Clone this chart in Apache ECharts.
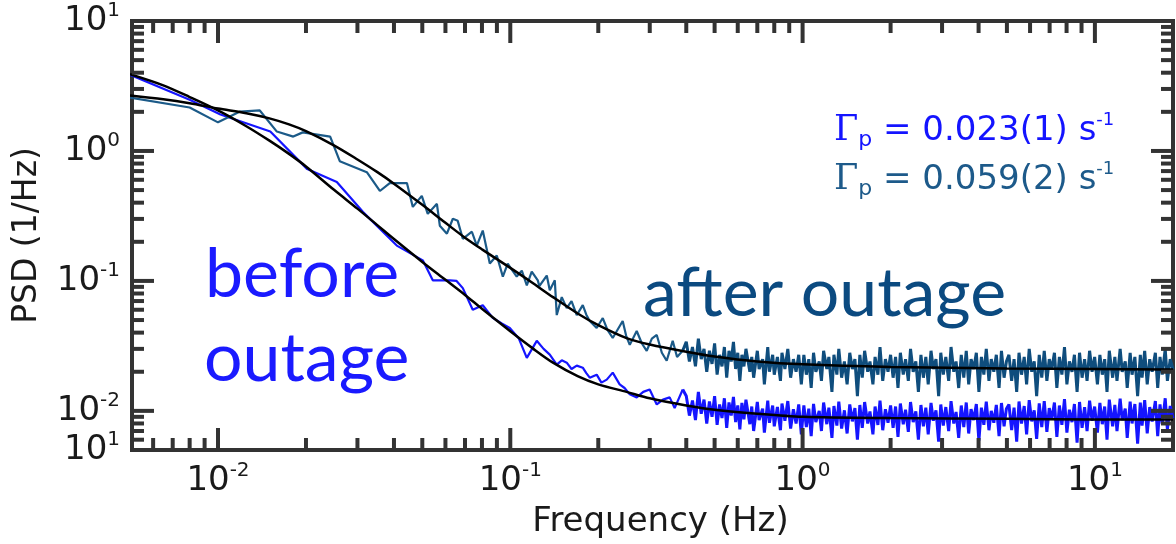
<!DOCTYPE html>
<html>
<head>
<meta charset="utf-8">
<script src="https://cdn.jsdelivr.net/npm/echarts@6/dist/echarts.min.js"></script>
<style>
html,body{margin:0;padding:0;background:#fff;}
#chart{width:1176px;height:544px;}
</style>
</head>
<body>
<div id="chart"></div>
<script>
// ---------------- data ----------------
// Axis ranges
const xRange = [0.00508, 18.5];
const yRange = [0.005, 10];

// Tick labels (value -> exponent shown as 10^exp)
const xTickValues = [0.01, 0.1, 1, 10];
const xTickExps = ['-2', '-1', '0', '1'];
const yTickValues = [0.005, 0.01, 0.1, 1, 10];
const yTickExps = ['1', '-2', '-1', '0', '1'];

// Tick marks
const xMajorTicks = [0.01, 0.1, 1, 10];
const xMinorTicks = [0.006, 0.007, 0.008, 0.009, 0.02, 0.03, 0.04, 0.05, 0.06, 0.07, 0.08, 0.09,
  0.2, 0.3, 0.4, 0.5, 0.6, 0.7, 0.8, 0.9, 2, 3, 4, 5, 6, 7, 8, 9];
const yMajorTicks = [0.01, 0.1, 1];
const yMinorTicks = [0.006, 0.007, 0.008, 0.009, 0.02, 0.03, 0.04, 0.05, 0.06, 0.07, 0.08, 0.09,
  0.2, 0.3, 0.4, 0.5, 0.6, 0.7, 0.8, 0.9, 2, 3, 4, 5, 6, 7, 8, 9];

// Low-frequency part of the "before outage" spectrum
const beforeLowFreq = [0.005, 0.008, 0.0102, 0.0151, 0.0202, 0.0255, 0.0313, 0.0409, 0.0502, 0.0543,
  0.0621, 0.0655, 0.0688, 0.0744, 0.0805, 0.0871, 0.0935, 0.0996, 0.107, 0.1139,
  0.1232, 0.130, 0.1365, 0.1442, 0.150, 0.156, 0.162, 0.1688, 0.177, 0.182,
  0.187, 0.1975, 0.205, 0.2138, 0.2241, 0.2367, 0.246, 0.2563, 0.2707, 0.285,
  0.2998, 0.317, 0.333, 0.351, 0.365, 0.389];
const beforeLowPsd = [3.85, 2.48, 1.91, 1.41, 0.725, 0.576, 0.340, 0.187, 0.144, 0.101,
  0.101, 0.100, 0.088, 0.060, 0.065, 0.052, 0.047, 0.0434, 0.036, 0.0256,
  0.0346, 0.030, 0.0271, 0.0227, 0.0245, 0.0235, 0.021, 0.0223, 0.0215, 0.0195,
  0.0180, 0.0190, 0.0165, 0.0174, 0.0197, 0.0160, 0.0150, 0.0134, 0.0127, 0.0140,
  0.0146, 0.0112, 0.0122, 0.0127, 0.0105, 0.0146];

// Low-frequency part of the "after outage" spectrum
const afterLowFreq = [0.005, 0.008, 0.010, 0.0119, 0.0139, 0.0159, 0.0181, 0.0195, 0.0242, 0.0261,
  0.0323, 0.0358, 0.0387, 0.0443, 0.0464, 0.0498, 0.0522, 0.0561, 0.0574, 0.0607,
  0.0636, 0.0661, 0.0688, 0.0739, 0.0768, 0.0805, 0.0851, 0.0899, 0.0943, 0.098,
  0.1005, 0.1052, 0.1095, 0.1139, 0.1184, 0.1242, 0.1257, 0.1333, 0.1365, 0.1420,
  0.1442, 0.150, 0.156, 0.162, 0.1688, 0.177, 0.182, 0.187, 0.1975, 0.2072,
  0.215, 0.2241, 0.2424, 0.249, 0.2563, 0.2707, 0.282, 0.2929, 0.305, 0.317,
  0.330, 0.3428, 0.3594, 0.372, 0.3888];
const afterLowPsd = [2.57, 2.16, 1.66, 2.01, 2.05, 1.41, 1.29, 1.39, 1.29, 0.834,
  0.687, 0.492, 0.566, 0.566, 0.371, 0.451, 0.328, 0.392, 0.266, 0.231,
  0.301, 0.290, 0.211, 0.239, 0.187, 0.244, 0.136, 0.157, 0.108, 0.136,
  0.125, 0.108, 0.120, 0.0925, 0.118, 0.101, 0.091, 0.110, 0.0848, 0.101,
  0.0546, 0.075, 0.0618, 0.070, 0.0546, 0.0651, 0.055, 0.0491, 0.0434, 0.0518,
  0.042, 0.0364, 0.0491, 0.038, 0.0322, 0.0412, 0.033, 0.0290, 0.036, 0.0384,
  0.028, 0.0243, 0.0346, 0.026, 0.0290];

// High-frequency (noise floor) part, shared frequency bins
const highFreq = [
  0.40, 0.41, 0.42, 0.43, 0.44, 0.45, 0.46, 0.47, 0.48, 0.49, 0.50, 0.51, 0.52, 0.53, 0.54, 0.55, 0.56, 0.57, 0.58, 0.59,
  0.60, 0.61, 0.62, 0.63, 0.64, 0.66, 0.67, 0.68, 0.70, 0.71, 0.73, 0.74, 0.76, 0.77, 0.79, 0.80, 0.82, 0.84, 0.85, 0.87,
  0.89, 0.91, 0.93, 0.95, 0.97, 0.99,
  1.01, 1.03, 1.05, 1.07, 1.09, 1.11, 1.14, 1.16, 1.18, 1.21, 1.23, 1.26, 1.28, 1.31, 1.33, 1.36, 1.39, 1.42, 1.45, 1.48,
  1.51, 1.54, 1.57, 1.60, 1.63, 1.67, 1.70, 1.74, 1.77, 1.81, 1.84, 1.88, 1.92, 1.96, 2.00,
  2.04, 2.08, 2.12, 2.16, 2.21, 2.25, 2.30, 2.34, 2.39, 2.44, 2.49, 2.54, 2.59, 2.64, 2.69, 2.75, 2.80, 2.86, 2.92, 2.97,
  3.03, 3.09, 3.16, 3.22, 3.29, 3.35, 3.42, 3.49, 3.56, 3.63, 3.70, 3.77, 3.85, 3.93, 4.01, 4.09, 4.17, 4.25, 4.34, 4.42,
  4.51, 4.60, 4.70, 4.79, 4.89, 4.98,
  5.08, 5.19, 5.29, 5.40, 5.50, 5.61, 5.73, 5.84, 5.96, 6.08, 6.20, 6.32, 6.45, 6.58, 6.71, 6.85, 6.98, 7.12, 7.27, 7.41,
  7.56, 7.71, 7.87, 8.02, 8.18, 8.35, 8.51, 8.69, 8.86, 9.04, 9.22, 9.40, 9.59, 9.78, 9.98,
  10.2, 10.4, 10.6, 10.8, 11.0, 11.2, 11.5, 11.7, 11.9, 12.2, 12.4, 12.7, 12.9, 13.2, 13.4, 13.7, 14.0, 14.3, 14.5, 14.8,
  15.1, 15.4, 15.7, 16.1, 16.4, 16.7, 17.0, 17.4, 17.7, 18.1, 18.5];

const beforeHighPsd = [
  0.013, 0.0092, 0.012, 0.0085, 0.014, 0.0095, 0.0122, 0.0080, 0.0118, 0.0090, 0.0130, 0.0078, 0.0112, 0.0088, 0.0125, 0.0074, 0.0116, 0.0092, 0.0128, 0.0082,
  0.0110, 0.0072, 0.0115, 0.0086, 0.0122, 0.0079, 0.0108, 0.0070, 0.0117, 0.0085, 0.0104, 0.0068, 0.0120, 0.0081, 0.0110, 0.0076, 0.0107, 0.0071, 0.0114, 0.0084,
  0.0119, 0.0073, 0.0103, 0.0080, 0.0112, 0.0066,
  0.0110, 0.0075, 0.0104, 0.0064, 0.0113, 0.0082, 0.0100, 0.0070, 0.0116, 0.0079, 0.0106, 0.0062, 0.0109, 0.0077, 0.0118, 0.0073, 0.0101, 0.0067, 0.0112, 0.0083,
  0.0105, 0.0060, 0.0111, 0.0074, 0.0117, 0.0080, 0.0099, 0.0066, 0.0108, 0.0078, 0.0120, 0.0071, 0.0103, 0.0081, 0.0110,
  0.0074, 0.0108, 0.0063, 0.0114, 0.0079, 0.0102, 0.0069, 0.0117, 0.0082, 0.0099, 0.0060, 0.0111, 0.0076, 0.0106, 0.0066, 0.0115, 0.0084, 0.0101, 0.0058, 0.0112,
  0.0077, 0.0107, 0.0070, 0.0119, 0.0080, 0.0098, 0.0062, 0.0110, 0.0075, 0.0116, 0.0067, 0.0103, 0.0085, 0.0113, 0.0059, 0.0106, 0.0078, 0.0118, 0.0071, 0.0100,
  0.0081, 0.0111, 0.0064, 0.0115, 0.0076, 0.0104,
  0.0112, 0.0071, 0.0106, 0.0058, 0.0118, 0.0080, 0.0109, 0.0066, 0.0121, 0.0083, 0.0101, 0.0061, 0.0114, 0.0075, 0.0119, 0.0069, 0.0105, 0.0086, 0.0116, 0.0063,
  0.0110, 0.0078, 0.0123, 0.0068, 0.0102, 0.0082, 0.0113, 0.0057, 0.0117, 0.0074, 0.0107, 0.0070, 0.0120, 0.0084, 0.0108,
  0.0068, 0.0115, 0.0079, 0.0108, 0.0060, 0.0122, 0.0076, 0.0111, 0.0070, 0.0124, 0.0085, 0.0104, 0.0062, 0.0118, 0.0080, 0.0113, 0.0056, 0.0116, 0.0077, 0.0121,
  0.0067, 0.0107, 0.0083, 0.0119, 0.0064, 0.0112, 0.0079, 0.0125, 0.0072, 0.0109, 0.0088];

const afterHighPsd = [
  0.034, 0.024, 0.031, 0.022, 0.036, 0.025, 0.030, 0.020, 0.029, 0.023, 0.033, 0.019, 0.027, 0.022, 0.031, 0.018, 0.029, 0.024, 0.034, 0.021,
  0.028, 0.017, 0.027, 0.022, 0.030, 0.020, 0.026, 0.018, 0.029, 0.021, 0.025, 0.016, 0.031, 0.020, 0.027, 0.019, 0.026, 0.017, 0.028, 0.021,
  0.030, 0.018, 0.025, 0.020, 0.027, 0.016,
  0.027, 0.019, 0.025, 0.015, 0.028, 0.020, 0.024, 0.017, 0.029, 0.021, 0.026, 0.014, 0.027, 0.019, 0.030, 0.018, 0.024, 0.016, 0.028, 0.021,
  0.025, 0.013, 0.027, 0.018, 0.029, 0.020, 0.024, 0.016, 0.026, 0.019, 0.031, 0.017, 0.025, 0.020, 0.027,
  0.018, 0.026, 0.015, 0.028, 0.019, 0.025, 0.017, 0.030, 0.020, 0.024, 0.014, 0.027, 0.018, 0.026, 0.016, 0.029, 0.021, 0.025, 0.013, 0.028,
  0.019, 0.026, 0.017, 0.031, 0.020, 0.024, 0.015, 0.027, 0.018, 0.029, 0.016, 0.025, 0.021, 0.028, 0.014, 0.026, 0.019, 0.030, 0.017, 0.025,
  0.020, 0.027, 0.015, 0.029, 0.018, 0.024,
  0.027, 0.017, 0.025, 0.014, 0.028, 0.019, 0.026, 0.016, 0.030, 0.020, 0.024, 0.013, 0.027, 0.018, 0.029, 0.017, 0.025, 0.021, 0.028, 0.015,
  0.026, 0.019, 0.031, 0.016, 0.024, 0.020, 0.027, 0.014, 0.028, 0.018, 0.025, 0.017, 0.029, 0.020, 0.026,
  0.016, 0.027, 0.019, 0.025, 0.014, 0.029, 0.018, 0.026, 0.017, 0.030, 0.020, 0.024, 0.015, 0.028, 0.019, 0.026, 0.013, 0.027, 0.018, 0.029,
  0.016, 0.025, 0.020, 0.028, 0.015, 0.026, 0.019, 0.030, 0.017, 0.025, 0.021];

// Fit curves (black)
const fitFreq = [0.005, 0.0065, 0.008, 0.01, 0.0125, 0.015, 0.0175, 0.02, 0.025, 0.03,
  0.035, 0.04, 0.05, 0.06, 0.07, 0.08, 0.1, 0.12, 0.14, 0.17,
  0.2, 0.25, 0.3, 0.4, 0.5, 0.7, 1.0, 2, 5, 10, 18.5];
const fitBefore = [3.9, 3.2, 2.6, 2.05, 1.55, 1.2, 0.95, 0.76, 0.50, 0.36,
  0.27, 0.21, 0.14, 0.102, 0.078, 0.061, 0.041, 0.030, 0.0235, 0.0185,
  0.0160, 0.0140, 0.0125, 0.0110, 0.0102, 0.0095, 0.0090, 0.0088, 0.0087, 0.0086, 0.0086];
const fitAfter = [2.67, 2.5, 2.33, 2.12, 1.95, 1.78, 1.6, 1.42, 1.1, 0.86,
  0.69, 0.56, 0.385, 0.28, 0.215, 0.175, 0.126, 0.0955, 0.075, 0.0562,
  0.0457, 0.0363, 0.0324, 0.0285, 0.0262, 0.0240, 0.0228, 0.0218, 0.0212, 0.0210, 0.0208];

// Texts
const beforeLabel = ['before', 'outage'];
const afterLabel = 'after outage';
const gammaTexts = [
  { value: '0.023(1)', color: '#1414ff' },
  { value: '0.059(2)', color: '#1d5a8a' }
];

// ---------------- build ----------------
function pairs(xs, ys) {
  const n = Math.min(xs.length, ys.length);
  const out = [];
  for (let i = 0; i < n; i++) out.push([xs[i], ys[i]]);
  return out;
}
const beforeLowData = pairs(beforeLowFreq, beforeLowPsd);
const afterLowData = pairs(afterLowFreq, afterLowPsd);
// high part starts from the last low point so the trace is continuous
const beforeHighData = [beforeLowData[beforeLowData.length - 1]].concat(pairs(highFreq, beforeHighPsd));
const afterHighData = [afterLowData[afterLowData.length - 1]].concat(pairs(highFreq, afterHighPsd));

const FONT = 'DejaVu Sans';
const LABEL_COLOR = '#1a1a1a';
const labelRich = {
  b: { fontFamily: FONT, fontSize: 34, color: LABEL_COLOR, lineHeight: 40 },
  s: { fontFamily: FONT, fontSize: 20, color: LABEL_COLOR, lineHeight: 26, verticalAlign: 'top' }
};
function findExp(values, exps, v) {
  const lv = Math.log10(v);
  for (let i = 0; i < values.length; i++) {
    if (Math.abs(Math.log10(values[i]) - lv) < 0.01) return exps[i];
  }
  return null;
}

const TICK_COLOR = '#333';
function tickSeries(dir, values, len) {
  return {
    type: 'custom',
    silent: true,
    clip: false,
    z: 6,
    animation: false,
    data: values.map(v => dir === 'x' ? [v, 1] : [1, v]),
    renderItem: function (params, api) {
      const cs = params.coordSys;
      const p = api.coord([api.value(0), api.value(1)]);
      const st = { stroke: TICK_COLOR, lineWidth: 4 };
      if (dir === 'x') {
        const b = cs.y + cs.height, t = cs.y;
        return { type: 'group', children: [
          { type: 'line', shape: { x1: p[0], y1: b, x2: p[0], y2: b - len }, style: st },
          { type: 'line', shape: { x1: p[0], y1: t, x2: p[0], y2: t + len }, style: st }
        ] };
      }
      const l = cs.x, r = cs.x + cs.width;
      return { type: 'group', children: [
        { type: 'line', shape: { x1: l, y1: p[1], x2: l + len, y2: p[1] }, style: st },
        { type: 'line', shape: { x1: r, y1: p[1], x2: r - len, y2: p[1] }, style: st }
      ] };
    }
  };
}

const chart = echarts.init(document.getElementById('chart'), null, { renderer: 'canvas' });
const gammaRich = function (color) {
  return {
    g: { fontFamily: 'DejaVu Serif', fontSize: 35, fill: color, color: color, lineHeight: 40 },
    sub: { fontFamily: FONT, fontSize: 22, fill: color, color: color, lineHeight: 20, verticalAlign: 'bottom' },
    t: { fontFamily: FONT, fontSize: 34, fill: color, color: color, lineHeight: 40 },
    sup: { fontFamily: FONT, fontSize: 18, fill: color, color: color, lineHeight: 30, verticalAlign: 'top' }
  };
};

const BEFORE_COLOR = '#1515ff';
const AFTER_COLOR = '#1b5a88';
const option = {
  animation: false,
  backgroundColor: '#ffffff',
  grid: {
    left: 132, right: 2, top: 21, bottom: 92,
    show: true, borderWidth: 4, borderColor: TICK_COLOR, backgroundColor: 'transparent',
    containLabel: false
  },
  xAxis: {
    type: 'log', logBase: 10, min: xRange[0], max: xRange[1],
    name: 'Frequency (Hz)', nameLocation: 'middle', nameGap: 55,
    nameTextStyle: { fontFamily: FONT, fontSize: 34, color: LABEL_COLOR, padding: [0, 0, 0, 16] },
    axisLine: { show: false }, axisTick: { show: false }, splitLine: { show: false },
    axisLabel: {
      margin: 11, showMinLabel: true, showMaxLabel: true, hideOverlap: false,
      formatter: function (v) {
        const e = findExp(xTickValues, xTickExps, v);
        return e === null ? '' : '{b|10}{s|' + e + '}';
      },
      rich: labelRich
    }
  },
  yAxis: {
    type: 'log', logBase: 10, min: yRange[0], max: yRange[1],
    name: 'PSD (1/Hz)', nameLocation: 'middle', nameGap: 88,
    nameTextStyle: { fontFamily: FONT, fontSize: 33, color: LABEL_COLOR },
    axisLine: { show: false }, axisTick: { show: false }, splitLine: { show: false },
    axisLabel: {
      margin: 12, showMinLabel: true, showMaxLabel: true, hideOverlap: false,
      formatter: function (v) {
        const e = findExp(yTickValues, yTickExps, v);
        return e === null ? '' : '{b|10}{s|' + e + '}';
      },
      rich: labelRich
    }
  },
  series: [
    { type: 'line', name: 'before', data: beforeLowData, showSymbol: false, symbol: 'none',
      lineStyle: { color: BEFORE_COLOR, width: 2.2 }, z: 2 },
    { type: 'line', name: 'before (floor)', data: beforeHighData, showSymbol: false, symbol: 'none',
      lineStyle: { color: BEFORE_COLOR, width: 3 }, z: 2 },
    { type: 'line', name: 'after', data: afterLowData, showSymbol: false, symbol: 'none',
      lineStyle: { color: AFTER_COLOR, width: 2.2 }, z: 2 },
    { type: 'line', name: 'after (floor)', data: afterHighData, showSymbol: false, symbol: 'none',
      lineStyle: { color: '#0f4d7d', width: 3 }, z: 2 },
    { type: 'line', name: 'fit before', data: pairs(fitFreq, fitBefore), showSymbol: false, symbol: 'none',
      smooth: 0.3, lineStyle: { color: '#000', width: 2.5 }, z: 3 },
    { type: 'line', name: 'fit after', data: pairs(fitFreq, fitAfter), showSymbol: false, symbol: 'none',
      smooth: 0.3, lineStyle: { color: '#000', width: 2.5 }, z: 3 },
    tickSeries('x', xMajorTicks, 22),
    tickSeries('x', xMinorTicks, 12),
    tickSeries('y', yMajorTicks, 22),
    tickSeries('y', yMinorTicks, 12)
  ],
  graphic: [
    { type: 'text', x: 205, y: 275, z: 20,
      style: { text: beforeLabel[0], fontFamily: 'Lato', fontSize: 68, fill: '#1a1aff', align: 'left', verticalAlign: 'middle' } },
    { type: 'text', x: 204, y: 359, z: 20,
      style: { text: beforeLabel[1], fontFamily: 'Lato', fontSize: 68, fill: '#1a1aff', align: 'left', verticalAlign: 'middle' } },
    { type: 'text', x: 643, y: 294, z: 20,
      style: { text: afterLabel, fontFamily: 'Lato', fontSize: 68, fill: '#0b4a80', align: 'left', verticalAlign: 'middle' } },
    { type: 'text', x: 834, y: 131, z: 20,
      style: { text: '{g|Γ}{sub|p}{t| = ' + gammaTexts[0].value + ' s}{sup|-1}', rich: gammaRich(gammaTexts[0].color),
        fill: gammaTexts[0].color, align: 'left', verticalAlign: 'middle' } },
    { type: 'text', x: 834, y: 180, z: 20,
      style: { text: '{g|Γ}{sub|p}{t| = ' + gammaTexts[1].value + ' s}{sup|-1}', rich: gammaRich(gammaTexts[1].color),
        fill: gammaTexts[1].color, align: 'left', verticalAlign: 'middle' } }
  ]
};
chart.setOption(option);
</script>
</body>
</html>
